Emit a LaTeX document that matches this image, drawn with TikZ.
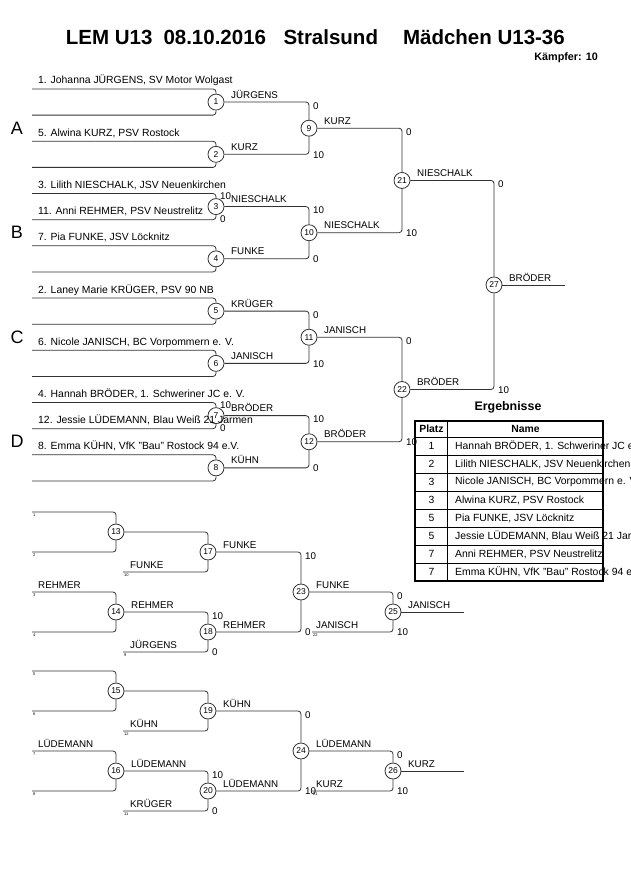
\documentclass[tikz,border=0pt]{standalone}
\usepackage{fontspec}
\setmainfont{Liberation Sans}
\tikzset{
  br/.style={draw=black!80, line width=0.8pt, rounded corners=3pt},
  mc/.style={circle, draw=black!80, fill=white, line width=0.8pt, minimum size=16pt, inner sep=0pt, font=\fontsize{8.5}{9}\selectfont},
  pname/.style={anchor=base west, inner sep=0pt, font=\fontsize{10.4}{12}\selectfont},
  wlab/.style={anchor=base west, inner sep=0pt, font=\fontsize{9.8}{11}\selectfont},
  score/.style={anchor=west, inner sep=0pt, font=\fontsize{9.8}{11}\selectfont},
  tnum/.style={anchor=north west, inner sep=0pt, font=\fontsize{4}{4}\selectfont},
  grp/.style={anchor=center, inner sep=0pt, font=\fontsize{18}{20}\selectfont},
  ttl/.style={anchor=base west, inner sep=0pt, font=\fontsize{20.5}{22}\selectfont\bfseries},
  tcell/.style={anchor=west, inner sep=0pt, font=\fontsize{10.4}{12}\selectfont},
  tnumc/.style={anchor=center, inner sep=0pt, font=\fontsize{10.4}{12}\selectfont},
  thead/.style={anchor=center, inner sep=0pt, font=\fontsize{10.4}{12}\selectfont\bfseries},
  tline/.style={draw=black, line width=1.2pt},
}
\begin{document}
\begin{tikzpicture}[x=1pt,y=-1pt]
\useasboundingbox (0,0) rectangle (630,891);
\clip (0,0) rectangle (630,891);
% title
\node[ttl] (t1) at (65.7,45) {LEM U13};
\node[ttl] (t2) at (163.3,45) {08.10.2016};
\node[ttl] (t3) at (283.3,45) {Stralsund};
\node[ttl, anchor=base east] (t4) at (565,45) {Mädchen U13-36};
\node[anchor=base east, inner sep=0pt, font=\fontsize{10.8}{12}\selectfont\bfseries] (kf) at (598,61) {Kämpfer: 10};
% ---------------- main bracket ----------------
\foreach \i in {0,...,15} \coordinate (e\i) at (32,{89+26.13*\i});
\foreach \k in {1,...,8} \node[mc] (m\k) at (216,{89+26.13*(2*\k-1.5)}) {\k};
\foreach \j/\n in {1/9,2/10,3/11,4/12} \node[mc] (m\n) at (309,{89+26.13*(4*\j-2.5)}) {\n};
\node[mc] (m21) at (402,{89+26.13*3.5}) {21};
\node[mc] (m22) at (402,{89+26.13*11.5}) {22};
\node[mc] (m27) at (494,{89+26.13*7.5}) {27};
\coordinate (f27) at (565,{89+26.13*7.5});
\foreach \i in {0,...,15} {
  \pgfmathtruncatemacro{\k}{int(\i/2)+1}
  \draw[br] (e\i) -| (m\k);
}
\foreach \a/\b in {1/9,2/9,3/10,4/10,5/11,6/11,7/12,8/12,9/21,10/21,11/22,12/22,21/27,22/27}
  \draw[br] (m\a) -| (m\b);
\draw[br] (m27) -- (f27);
% group letters
\node[grp] (gA) at (17,128.2) {A};
\node[grp] (gB) at (17,232.7) {B};
\node[grp] (gC) at (17,337.2) {C};
\node[grp] (gD) at (17,441.8) {D};
% player names
\node[pname] (p0) at (38,84) {1. Johanna JÜRGENS, SV Motor Wolgast};
\node[pname] (p2) at (38,136.3) {5. Alwina KURZ, PSV Rostock};
\node[pname] (p4) at (38,188.5) {3. Lilith NIESCHALK, JSV Neuenkirchen};
\node[pname] (p5) at (38,214.6) {11. Anni REHMER, PSV Neustrelitz};
\node[pname] (p6) at (38,240.8) {7. Pia FUNKE, JSV Löcknitz};
\node[pname] (p8) at (38,293) {2. Laney Marie KRÜGER, PSV 90 NB};
\node[pname] (p10) at (38,345.3) {6. Nicole JANISCH, BC Vorpommern e. V.};
\node[pname] (p12) at (38,397.6) {4. Hannah BRÖDER, 1. Schweriner JC e. V.};
\node[pname] (p13) at (38,423.7) {12. Jessie LÜDEMANN, Blau Weiß 21 Jarmen};
\node[pname] (p14) at (38,449.8) {8. Emma KÜHN, VfK "Bau" Rostock 94 e.V.};
% winner labels
\node[wlab] (w1) at (231,98.1) {JÜRGENS};
\node[wlab] (w2) at (231,150.3) {KURZ};
\node[wlab] (w3) at (231,202.6) {NIESCHALK};
\node[wlab] (w4) at (231,254.9) {FUNKE};
\node[wlab] (w5) at (231,307.1) {KRÜGER};
\node[wlab] (w6) at (231,359.4) {JANISCH};
\node[wlab] (w7) at (231,411.6) {BRÖDER};
\node[wlab] (w8) at (231,463.9) {KÜHN};
\node[wlab] (w9) at (324,124.2) {KURZ};
\node[wlab] (w10) at (324,228.7) {NIESCHALK};
\node[wlab] (w11) at (324,333.2) {JANISCH};
\node[wlab] (w12) at (324,437.8) {BRÖDER};
\node[wlab] (w21) at (417,176.5) {NIESCHALK};
\node[wlab] (w22) at (417,385.5) {BRÖDER};
\node[wlab] (w27) at (509,281) {BRÖDER};
% scores
\node[score] (s3a) at (220,196) {10};
\node[score] (s3b) at (220,219) {0};
\node[score] (s7a) at (220,405) {10};
\node[score] (s7b) at (220,428) {0};
\node[score] (s9a) at (313,106) {0};
\node[score] (s9b) at (313,155) {10};
\node[score] (s10a) at (313,210.6) {10};
\node[score] (s10b) at (313,259.4) {0};
\node[score] (s11a) at (313,315.1) {0};
\node[score] (s11b) at (313,363.9) {10};
\node[score] (s12a) at (313,419.6) {10};
\node[score] (s12b) at (313,468.4) {0};
\node[score] (s21a) at (406,132.2) {0};
\node[score] (s21b) at (406,233.2) {10};
\node[score] (s22a) at (406,341.2) {0};
\node[score] (s22b) at (406,442.3) {10};
\node[score] (s27a) at (498,184.5) {0};
\node[score] (s27b) at (498,390) {10};
% ---------------- lower sections ----------------
\foreach \S/\a/\b/\c/\d/\A/\B/\C/\D/\E/\F in {0/1/2/3/4/13/14/17/18/23/25, 159/5/6/7/8/15/16/19/20/24/26} {
  \coordinate (l\a) at (32,512+\S);
  \coordinate (l\b) at (32,552+\S);
  \coordinate (l\c) at (32,592+\S);
  \coordinate (l\d) at (32,632+\S);
  \node[mc] (m\A) at (116,532+\S) {\A};
  \node[mc] (m\B) at (116,612+\S) {\B};
  \node[mc] (m\C) at (208,552+\S) {\C};
  \node[mc] (m\D) at (208,632+\S) {\D};
  \node[mc] (m\E) at (301,592+\S) {\E};
  \node[mc] (m\F) at (393,612+\S) {\F};
  \coordinate (x\C) at (123,572+\S);
  \coordinate (x\D) at (123,652+\S);
  \coordinate (x\E) at (312,632+\S);
  \coordinate (f\F) at (464,612+\S);
  \draw[br] (l\a) -| (m\A);
  \draw[br] (l\b) -| (m\A);
  \draw[br] (l\c) -| (m\B);
  \draw[br] (l\d) -| (m\B);
  \draw[br] (m\A) -| (m\C);
  \draw[br] (x\C) -| (m\C);
  \draw[br] (m\B) -| (m\D);
  \draw[br] (x\D) -| (m\D);
  \draw[br] (m\C) -| (m\E);
  \draw[br] (m\D) -| (m\E);
  \draw[br] (m\E) -| (m\F);
  \draw[br] (x\E) -| (m\F);
  \draw[br] (m\F) -- (f\F);
  \node[tnum] (q\a) at (33,513.5+\S) {\a};
  \node[tnum] (q\b) at (33,553.5+\S) {\b};
  \node[tnum] (q\c) at (33,593.5+\S) {\c};
  \node[tnum] (q\d) at (33,633.5+\S) {\d};
}
% section 1 texts
\node[tnum] (r10) at (124,573.5) {10};
\node[tnum] (r9) at (124,653.5) {9};
\node[tnum] (r22) at (313,633.5) {22};
\node[wlab] (v3) at (38,588) {REHMER};
\node[wlab] (vx17) at (130,568) {FUNKE};
\node[wlab] (vx18) at (130,648) {JÜRGENS};
\node[wlab] (vx23) at (316,628) {JANISCH};
\node[wlab] (w14) at (131,608) {REHMER};
\node[wlab] (w17) at (223,548) {FUNKE};
\node[wlab] (w18) at (223,628) {REHMER};
\node[wlab] (w23) at (316,588) {FUNKE};
\node[wlab] (w25) at (408,608) {JANISCH};
\node[score] (s18a) at (212,616) {10};
\node[score] (s18b) at (212,652.5) {0};
\node[score] (s23a) at (305,556) {10};
\node[score] (s23b) at (305,632.5) {0};
\node[score] (s25a) at (397,596) {0};
\node[score] (s25b) at (397,632.5) {10};
% section 2 texts
\node[tnum] (r12) at (124,732.5) {12};
\node[tnum] (r11) at (124,812.5) {11};
\node[tnum] (r21) at (313,792.5) {21};
\node[wlab] (v7) at (38,747) {LÜDEMANN};
\node[wlab] (vx19) at (130,727) {KÜHN};
\node[wlab] (vx20) at (130,807) {KRÜGER};
\node[wlab] (vx24) at (316,787) {KURZ};
\node[wlab] (w16) at (131,767) {LÜDEMANN};
\node[wlab] (w19) at (223,707) {KÜHN};
\node[wlab] (w20) at (223,787) {LÜDEMANN};
\node[wlab] (w24) at (316,747) {LÜDEMANN};
\node[wlab] (w26) at (408,767) {KURZ};
\node[score] (s20a) at (212,775) {10};
\node[score] (s20b) at (212,811.5) {0};
\node[score] (s24a) at (305,715) {0};
\node[score] (s24b) at (305,791.5) {10};
\node[score] (s26a) at (397,755) {0};
\node[score] (s26b) at (397,791.5) {10};
% ---------------- results table ----------------
\node[anchor=center, inner sep=0pt, font=\fontsize{12.4}{14}\selectfont\bfseries] (erg) at (508,407) {Ergebnisse};
\node[thead] (hP) at (431.5,429) {Platz};
\node[thead] (hN) at (525.5,429) {Name};
\foreach \r/\p/\t in {1/1/{Hannah BRÖDER, 1. Schweriner JC e. V.},
                      2/2/{Lilith NIESCHALK, JSV Neuenkirchen},
                      3/3/{Nicole JANISCH, BC Vorpommern e. V.},
                      4/3/{Alwina KURZ, PSV Rostock},
                      5/5/{Pia FUNKE, JSV Löcknitz},
                      6/5/{Jessie LÜDEMANN, Blau Weiß 21 Jarmen},
                      7/7/{Anni REHMER, PSV Neustrelitz},
                      8/7/{Emma KÜHN, VfK "Bau" Rostock 94 e.V.}} {
  \node[tnumc] (tp\r) at (431.5,{437.3+18*\r-9}) {\p};
  \node[tcell] (tn\r) at (455,{437.3+18*\r-9}) {\t};
}
\foreach \r in {0,...,7} \draw[tline] (415,{437.3+18*\r}) -- (603.3,{437.3+18*\r});
\draw[draw=black, line width=1pt] (447.7,420.7) -- (447.7,581);
\draw[draw=black, line width=1.8pt] (415,420.7) rectangle (603.3,581);
\end{tikzpicture}
\end{document}
